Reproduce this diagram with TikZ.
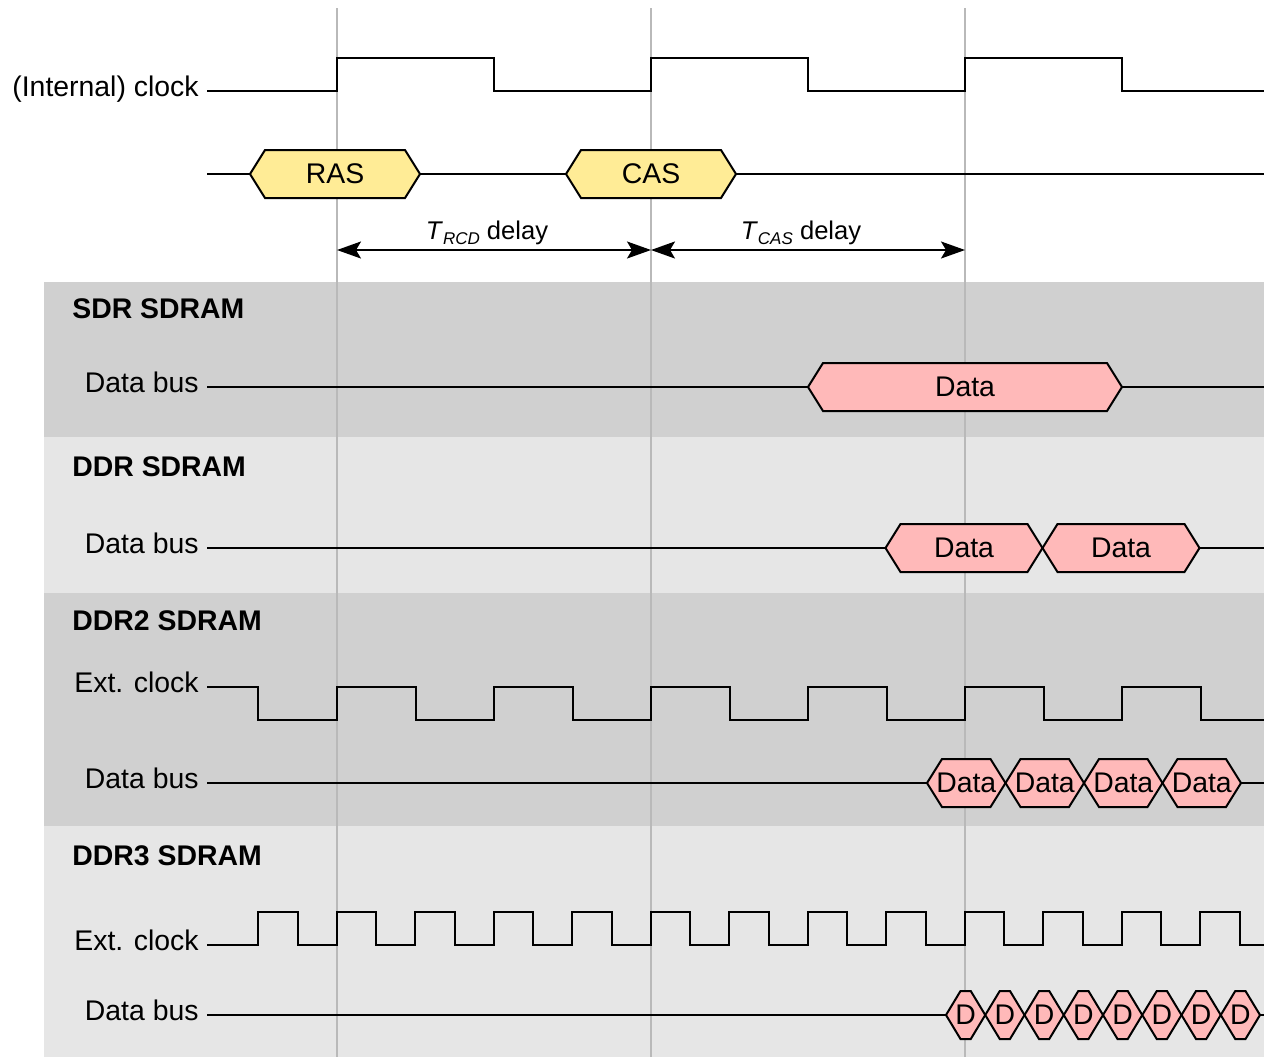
\documentclass[tikz,border=0pt]{standalone}
\usepackage{fontspec}
\setmainfont{Liberation Sans}
\usetikzlibrary{arrows.meta}

\definecolor{cmdyellow}{RGB}{255,236,150}
\definecolor{datapink}{RGB}{255,185,185}
\definecolor{banddark}{RGB}{208,208,208}
\definecolor{bandlight}{RGB}{230,230,230}
\definecolor{gridgray}{RGB}{185,185,185}

\newcommand{\sigfont}{\fontsize{14.2pt}{17pt}\selectfont}
\newcommand{\tsub}[2]{\textit{#1}\raisebox{-0.35ex}{\fontsize{8.5pt}{9pt}\selectfont\textit{#2}}}

% hexagon bus box: style, name, left tip, right tip, level, text
\newcommand{\hexin}{15}
\newcommand{\busbox}[6]{%
  \draw[#1] (#3,#5) -- (#3+\hexin,#5-24) -- (#4-\hexin,#5-24) -- (#4,#5)
    -- (#4-\hexin,#5+24) -- (#3+\hexin,#5+24) -- cycle;
  \node[boxtext] (#2) at ({(#3+#4)/2},#5) {#6};}

\tikzset{
  every node/.style={font=\sigfont},
  sig/.style={line width=1pt, black},
  busshape/.style={line width=1pt, draw=black},
  cmdbox/.style={busshape, fill=cmdyellow},
  databox/.style={busshape, fill=datapink},
  boxtext/.style={inner sep=0pt},
  siglabel/.style={anchor=east, inner xsep=4pt, inner ysep=0pt, text height=0.73em, text depth=0.21em},
  bandtitle/.style={anchor=base west, inner sep=0pt, font=\sigfont\bfseries},
  delay/.style={line width=1pt, >={Stealth[length=12pt,width=8.5pt,inset=2.5pt]}, <->},
  delaylabel/.style={above, inner sep=2pt, xshift=-3.5pt, font=\fontsize{12.8pt}{15pt}\selectfont},
  timeline/.style={gridgray, line width=1pt}
}

\begin{document}
\begin{tikzpicture}[x=0.5pt,y=-0.5pt]
\useasboundingbox (0,0) rectangle (1264,1057);

% Bands
\fill[banddark] (44,282) rectangle (1264,437);
\fill[bandlight] (44,437) rectangle (1264,593);
\fill[banddark] (44,593) rectangle (1264,826);
\fill[bandlight] (44,826) rectangle (1264,1057);

\node[bandtitle] (sdrtitle) at (72,318) {SDR SDRAM};
\node[bandtitle] (ddrtitle) at (72,476) {DDR SDRAM};
\node[bandtitle] (ddrtwotitle) at (72,630) {DDR2 SDRAM};
\node[bandtitle] (ddrthreetitle) at (72,865) {DDR3 SDRAM};

% Time lines
\foreach \t in {337,651,965}
  \draw[timeline] (\t,8) -- (\t,1057);

% Internal clock
\node[siglabel] (clklbl) at (207,91) {(Internal) clock};
\draw[sig] (clklbl.east) -- (337,91)
  foreach \k in {1,2} { -- ++(0,-33) -- ++(157,0) -- ++(0,33) -- ++(157,0) }
  -- ++(0,-33) -- ++(157,0) -- ++(0,33) -- (1264,91);

% Commands
\coordinate (cmdstart) at (207,174);
\coordinate (cmdend) at (1264,174);
\draw[sig] (cmdstart) -- (cmdend);
\busbox{cmdbox}{ras}{250}{420}{174}{RAS}
\busbox{cmdbox}{cas}{566}{736}{174}{CAS}

% Delays
\coordinate (rcdstart) at (337,250);
\coordinate (casstart) at (651,250);
\coordinate (casend) at (965,250);
\draw[delay] (rcdstart) -- node[delaylabel] (rcdlbl) {\tsub{T}{RCD} delay} (casstart);
\draw[delay] (casstart) -- node[delaylabel] (caslbl) {\tsub{T}{CAS} delay} (casend);

% SDR
\node[siglabel] (sdrlbl) at (207,387) {Data bus};
\draw[sig] (sdrlbl.east) -- (1264,387);
\busbox{databox}{sdrdata}{808}{1122}{387}{Data}

% DDR
\node[siglabel] (ddrlbl) at (207,548) {Data bus};
\draw[sig] (ddrlbl.east) -- (1264,548);
\busbox{databox}{ddrdataa}{885.5}{1042.5}{548}{Data}
\busbox{databox}{ddrdatab}{1042.5}{1199.5}{548}{Data}

% DDR2
\node[siglabel] (ddrtwoclk) at (207,687) {Ext. clock};
\draw[sig] (ddrtwoclk.east) -- (258.25,687) -- (258.25,720) -- (337,720)
  foreach \k in {1,...,5} { -- ++(0,-33) -- ++(78.5,0) -- ++(0,33) -- ++(78.5,0) }
  -- ++(0,-33) -- ++(78.5,0) -- ++(0,33) -- (1264,720);
\node[siglabel] (ddrtwolbl) at (207,783) {Data bus};
\draw[sig] (ddrtwolbl.east) -- (1264,783);
\busbox{databox}{ddrtwoa}{927}{1005.5}{783}{Data}
\busbox{databox}{ddrtwob}{1005.5}{1084}{783}{Data}
\busbox{databox}{ddrtwoc}{1084}{1162.5}{783}{Data}
\busbox{databox}{ddrtwod}{1162.5}{1241}{783}{Data}

% DDR3
\node[siglabel] (ddrthreeclk) at (207,945) {Ext. clock};
\draw[sig] (ddrthreeclk.east) -- (258.25,945)
  foreach \k in {1,...,12} { -- ++(0,-33) -- ++(39.25,0) -- ++(0,33) -- ++(39.25,0) }
  -- ++(0,-33) -- ++(39.25,0) -- ++(0,33) -- (1264,945);
\node[siglabel] (ddrthreelbl) at (207,1015) {Data bus};
\draw[sig] (ddrthreelbl.east) -- (1264,1015);
\renewcommand{\hexin}{14.5}
\foreach \k [evaluate=\k as \xl using 946+39.25*\k, evaluate=\k as \xr using 985.25+39.25*\k] in {0,...,7}
  {\busbox{databox}{ddrthree\k}{\xl}{\xr}{1015}{D}}
\end{tikzpicture}
\end{document}
